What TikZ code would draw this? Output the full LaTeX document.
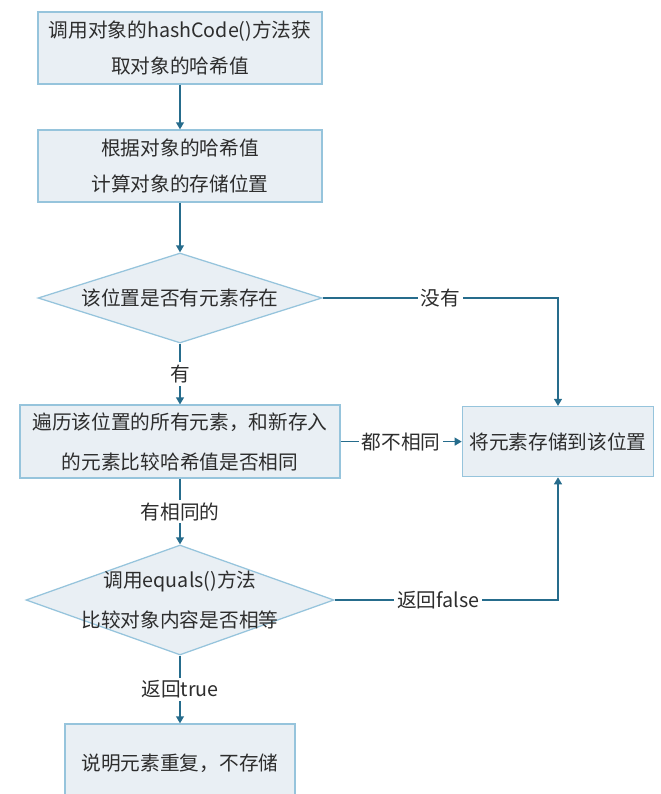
\documentclass[tikz,border=0pt]{standalone}
\usepackage{fontspec}
\setmainfont{Noto Sans CJK SC}
\usetikzlibrary{shapes.geometric,arrows.meta}
\definecolor{boxfill}{RGB}{233,239,244}
\definecolor{boxline}{RGB}{150,196,220}
\definecolor{flowline}{RGB}{38,108,140}
\definecolor{txtgray}{RGB}{45,45,45}
\begin{document}
\begin{tikzpicture}[>={Triangle[length=5pt,width=5.5pt]},
  box/.style={rectangle, draw=boxline, fill=boxfill, line width=0.9pt, align=center, text=txtgray, font=\fontsize{14}{25}\selectfont},
  decision/.style={diamond, draw=boxline, fill=boxfill, line width=0.9pt, align=center, text=txtgray, font=\fontsize{14}{25}\selectfont, aspect=2.8, inner xsep=0pt, inner ysep=-0.4cm},
  flow/.style={draw=flowline, line width=1.2pt},
  lbl/.style={fill=white, text=txtgray, font=\fontsize{14}{17}\selectfont, inner sep=2pt}]
\clip (0,0) rectangle (16.5,-19.85);
% Start
\node (hash) [box, minimum width=7.1cm, minimum height=1.8cm] at (4.5,-1.2) {调用对象的hashCode()方法获\\取对象的哈希值};
\node (pos) [box, below of=hash, node distance=2.95cm, minimum width=7.1cm, minimum height=1.8cm] {根据对象的哈希值\\计算对象的存储位置};
\node (exist) [decision, below of=pos, node distance=3.3cm, minimum width=7.1cm, minimum height=2.25cm] {该位置是否有元素存在};

% Compare hashes
\node (scan) [box, below of=exist, node distance=3.59cm, minimum width=8cm, minimum height=1.825cm] {遍历该位置的所有元素，和新存入\\[3.5pt]的元素比较哈希值是否相同};
\node (store) [box, right of=scan, node distance=9.45cm, minimum width=4.78cm, minimum height=1.75cm] {将元素存储到该位置};

% Compare contents
\node (eq) [decision, below of=scan, node distance=3.96cm, minimum width=7.7cm, minimum height=2.75cm] {调用equals()方法\\[3.5pt]比较对象内容是否相等};
\node (dup) [box, below of=eq, node distance=4.075cm, minimum width=5.75cm, minimum height=1.95cm] {说明元素重复，不存储};

\draw [flow, ->] (hash) -- (pos);
\draw [flow, ->] (pos) -- (exist);
\draw [flow, ->] (exist) -- node[lbl] {有} (scan);
\draw [flow, ->] (exist) -| node[lbl, pos=0.25] {没有} (store);
\draw [flow, ->] (scan) -- node[lbl] {都不相同} (store);
\draw [flow, ->] (scan) -- node[lbl] {有相同的} (eq);
\draw [flow, ->] (eq) -| node[lbl, pos=0.232] {返回false} (store);
\draw [flow, ->] (eq) -- node[lbl] {返回true} (dup);
\end{tikzpicture}
\end{document}
